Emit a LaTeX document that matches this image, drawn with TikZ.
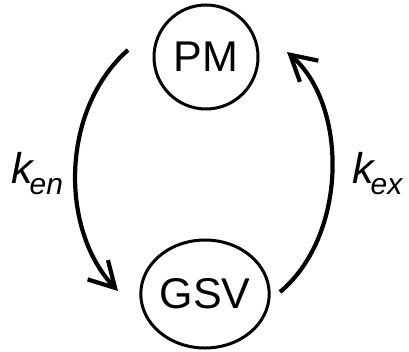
\documentclass[tikz,border=0pt]{standalone}
\usepackage{fontspec}
\setmainfont{Liberation Sans}
\usetikzlibrary{shapes.geometric,arrows.meta}
\begin{document}
\begin{tikzpicture}[x=1pt,y=-1pt,
  state/.style={draw,line width=3pt,inner sep=0pt,font=\fontsize{43}{43}\selectfont},
  flow/.style={line width=4.2pt,-{Straight Barb[length=25pt,width=28pt,line width=4.2pt]}},
  rate/.style={inner sep=0pt,anchor=base west,font=\fontsize{43}{43}\selectfont\itshape}]
\useasboundingbox (0,0) rectangle (409,351);
\node[state,circle,minimum size=104pt] (PM) at (206,57) {PM};
\node[state,ellipse,minimum width=124pt,minimum height=108pt] (GSV) at (205,294) {GSV};
\coordinate (s1) at (128,50);
\coordinate (e1) at (118,291);
\coordinate (s2) at (280,292);
\coordinate (e2) at (287,52);
\draw[flow] (s1) .. controls (60,110) and (60,230) .. (e1);
\draw[flow] (s2) .. controls (348,235) and (348,105) .. (e2);
\node[rate] (ken) at (11,183) {k\kern-3pt\raisebox{-11pt}{\fontsize{30}{30}\selectfont en}};
\node[rate] (kex) at (352,183) {k\kern-3pt\raisebox{-11pt}{\fontsize{30}{30}\selectfont ex}};
\end{tikzpicture}
\end{document}
